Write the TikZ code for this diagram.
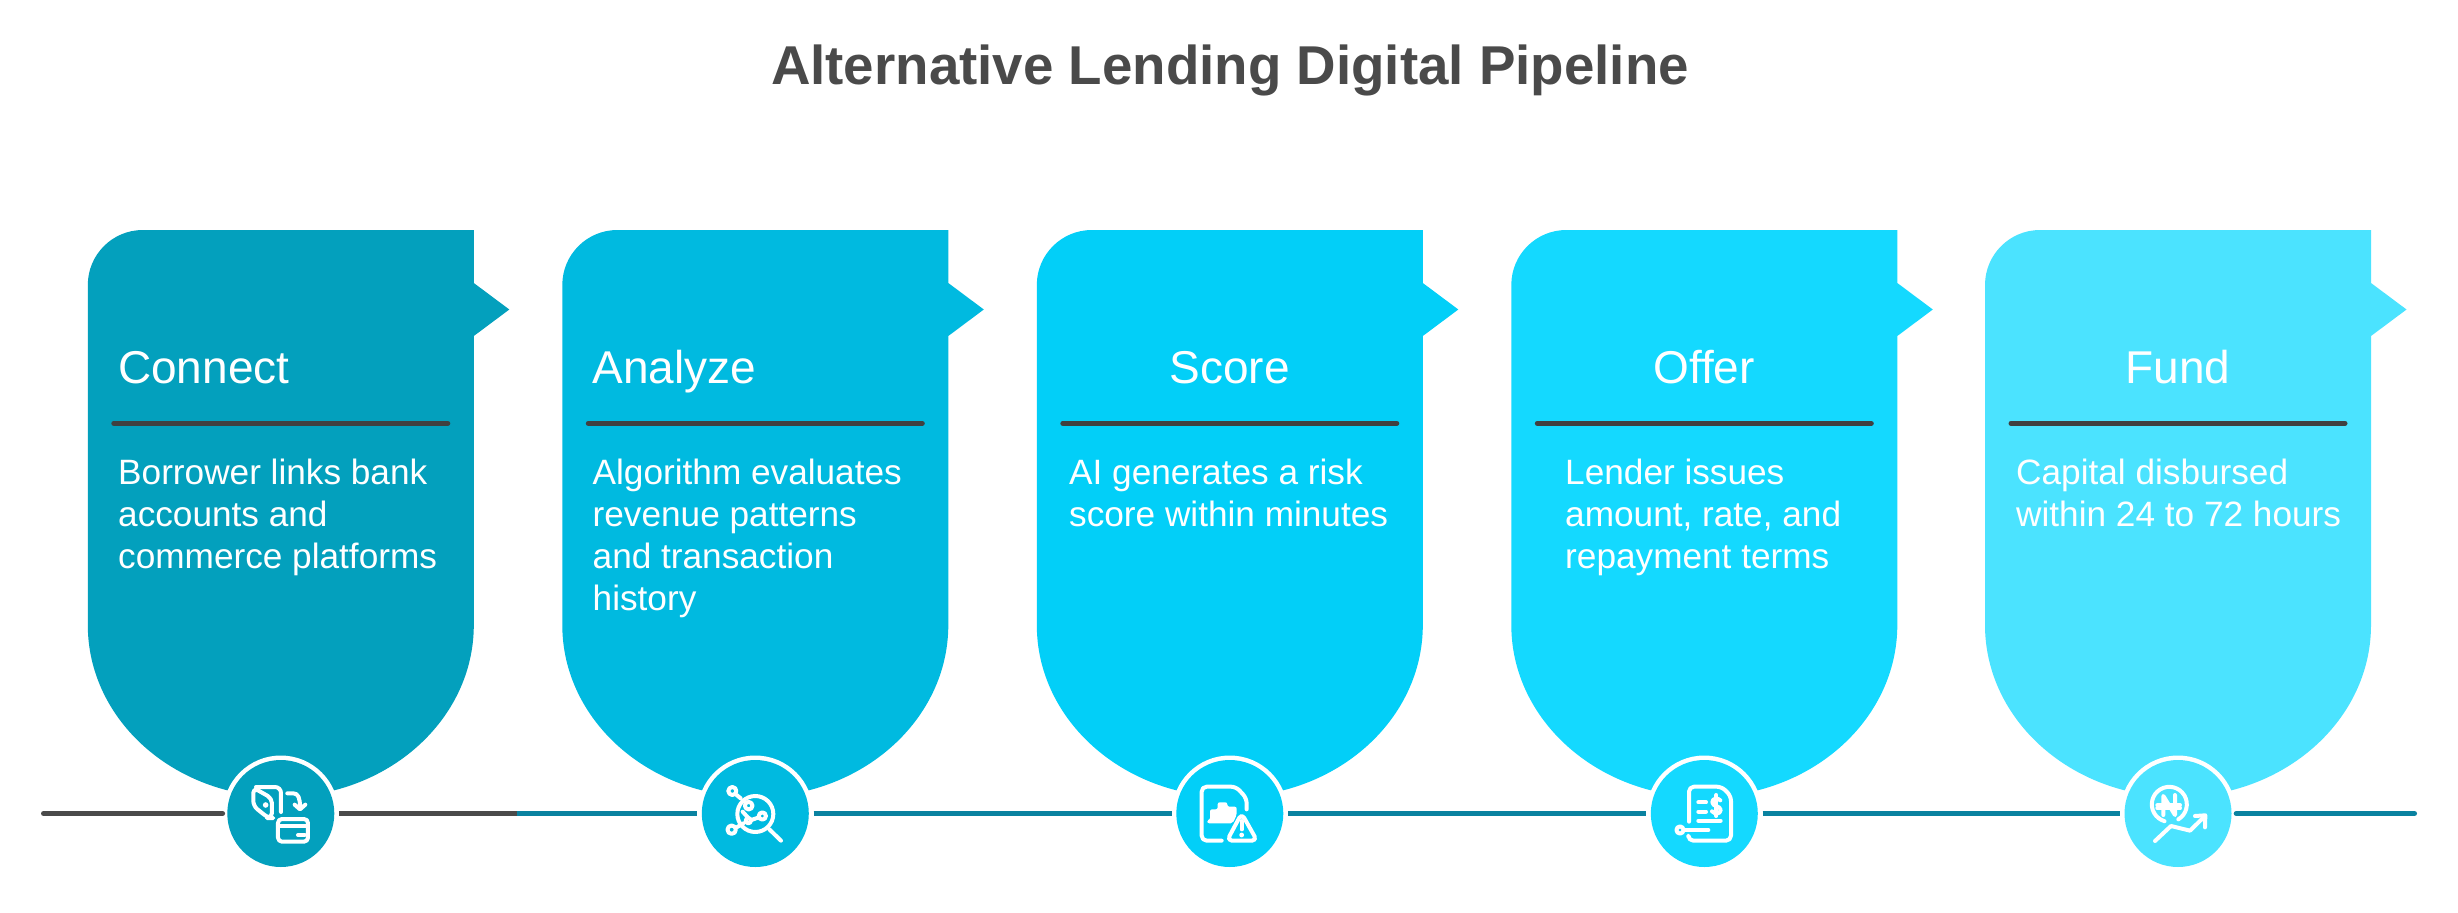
\documentclass[tikz,border=0pt]{standalone}
\usepackage{fontspec}
\setmainfont{Liberation Sans}
\definecolor{cardA}{RGB}{3,160,189}
\definecolor{cardB}{RGB}{0,186,224}
\definecolor{cardC}{RGB}{2,207,248}
\definecolor{cardD}{RGB}{20,217,255}
\definecolor{cardE}{RGB}{75,227,255}
\definecolor{inkdark}{RGB}{74,74,74}
\definecolor{rulegrey}{RGB}{64,64,64}
\definecolor{railteal}{RGB}{10,130,160}
\tikzset{
  headtext/.style={text=white,inner sep=0pt,font=\fontsize{46}{50}\selectfont},
  bodytext/.style={text=white,inner sep=0pt,align=left,anchor=north west,font=\fontsize{35.2}{42}\selectfont},
  iconring/.style={circle,fill=white,minimum size=116pt,inner sep=0pt},
  icondisc/.style={circle,minimum size=107pt,inner sep=0pt},
  glyph/.style={draw=white,line width=4pt,line cap=round,line join=round},
  solidglyph/.style={fill=white},
  railline/.style={line width=5pt},
}
\newcommand\stagecard[3]{%
  \fill[#2] (#1,285) arc[start angle=180,end angle=90,radius=55pt]
    -- (#1+386,230) -- (#1+386,283) -- (#1+421.5,309.5) -- (#1+386,336)
    -- (#1+386,625) arc[start angle=0,end angle=-180,x radius=193pt,y radius=172pt] -- cycle;
  \draw[line width=5pt,line cap=round,rulegrey] (#1+26,423.3) -- (#1+360,423.3);
  \node[iconring] (#3ring) at (#1+193,813.5) {};
  \node[icondisc,fill=#2] (#3) at (#1+193,813.5) {};
}
\begin{document}
\begin{tikzpicture}[x=1pt,y=-1pt]
\path[use as bounding box,fill=white] (0,0) rectangle (2458,913);
\node[text=inkdark,inner sep=0pt,anchor=base,font=\fontsize{54.7}{60}\bfseries\selectfont] (title) at (1230,84) {Alternative Lending Digital Pipeline};

\stagecard{87.8}{cardA}{iconA}
\stagecard{562.3}{cardB}{iconB}
\stagecard{1036.8}{cardC}{iconC}
\stagecard{1511.3}{cardD}{iconD}
\stagecard{1985}{cardE}{iconE}

\node[headtext,anchor=base west] (headA) at (118,383.3) {Connect};
\node[headtext,anchor=base west] (headB) at (592.5,383.3) {Analyze};
\node[headtext,anchor=base] (headC) at (1229.5,383.3) {Score};
\node[headtext,anchor=base] (headD) at (1704,383.3) {Offer};
\node[headtext,anchor=base] (headE) at (2178,383.3) {Fund};

\node[bodytext] (bodyA) at (118,456) {\rule{0pt}{28pt}Borrower links bank\\accounts and\\commerce platforms};
\node[bodytext] (bodyB) at (592.5,456) {\rule{0pt}{28pt}Algorithm evaluates\\revenue patterns\\and transaction\\history};
\node[bodytext] (bodyC) at (1069,456) {\rule{0pt}{28pt}AI generates a risk\\score within minutes};
\node[bodytext] (bodyD) at (1565,456) {\rule{0pt}{28pt}Lender issues\\amount, rate, and\\repayment terms};
\node[bodytext] (bodyE) at (2016,456) {\rule{0pt}{28pt}Capital disbursed\\within 24 to 72 hours};

% rail
\coordinate (railstart) at (43.5,813.5);
\coordinate (railend) at (2414.5,813.5);
\coordinate (railswitch) at (516.5,813.5);
\draw[railline,inkdark,line cap=round] (railstart) -- (iconAring.west);
\draw[railline,inkdark] (iconAring.east) -- (railswitch);
\draw[railline,railteal] (railswitch) -- (iconBring.west);
\draw[railline,railteal] (iconBring.east) -- (iconCring.west);
\draw[railline,railteal] (iconCring.east) -- (iconDring.west);
\draw[railline,railteal] (iconDring.east) -- (iconEring.west);
\draw[railline,railteal,line cap=round] (iconEring.east) -- (railend);

% icon: door, arrow, card
\begin{scope}[shift={(200,740)},x=0.3333pt,y=-0.3333pt]
  \draw[glyph,rounded corners=6pt] (168,141) -- (243,141) -- (243,216);
  \draw[glyph,rounded corners=5pt] (160,143) -- (216,175) -- (216,234) -- (205,234) -- (160,198) -- cycle;
  \fill[solidglyph] (197,195) circle (2.8pt);
  \draw[glyph] (262,160) -- (280,160) .. controls (295,160) and (300,175) .. (300,200);
  \draw[glyph] (284,194) -- (300,208) -- (316,194);
  \draw[glyph,rounded corners=4pt] (234,237) rectangle (324,305);
  \draw[glyph] (234,258) -- (324,258);
  \draw[glyph] (294,285) -- (314,285);
\end{scope}

% icon: magnifier and network
\begin{scope}[shift={(680,740)},x=0.3333pt,y=-0.3333pt]
  \draw[glyph] (226,222) circle (18pt);
  \draw[glyph] (268,268) -- (303,302);
  \draw[glyph] (157,153) circle (4pt);
  \draw[glyph] (170,165) -- (182,175);
  \draw[glyph] (155,269) circle (4.2pt);
  \draw[glyph] (170,262) -- (190,250);
  \draw[glyph] (206,197) circle (3.8pt);
  \draw[glyph] (247,228) circle (3.6pt);
  \draw[glyph] (205,242) circle (2.6pt);
  \draw[glyph] (214,240) -- (237,232);
  \draw[glyph] (188,215) -- (205,234);
\end{scope}

% icon: document, chart, warning
\begin{scope}[shift={(1150,740)},x=0.3333pt,y=-0.3333pt]
  \draw[glyph,rounded corners=5pt] (215,302) -- (155,302) -- (155,140) -- (258,140) -- (290,175) -- (290,208);
  \fill[solidglyph,rounded corners=2pt] (172,250) -- (172,240) -- (180,240) -- (180,208) -- (203,208) -- (203,187) -- (232,187) -- (232,200) -- (260,200) -- (260,225) -- (248,250) -- cycle;
  \draw[glyph,rounded corners=5pt] (275,220) -- (231,302) -- (321,302) -- cycle;
  \draw[glyph] (275,243) -- (275,268);
  \fill[solidglyph] (275,285) circle (2.4pt);
\end{scope}

% icon: invoice with dollar
\begin{scope}[shift={(1630,740)},x=0.3333pt,y=-0.3333pt]
  \draw[glyph,rounded corners=5pt] (177,245) -- (177,140) -- (275,140) -- (303,168) -- (303,302) -- (175,302) -- (175,290);
  \draw[glyph] (205,187) -- (228,187);
  \draw[glyph] (205,215) -- (228,215);
  \draw[glyph] (205,242) -- (272,242);
  \draw[glyph] (165,270) -- (235,270);
  \draw[glyph] (150,270) circle (3.6pt);
  \draw[glyph] (271,181) .. controls (262,172) and (247,175) .. (247,187) .. controls (247,200) and (272,197) .. (272,210) .. controls (272,222) and (255,224) .. (246,214);
  \draw[glyph] (259,165) -- (259,228);
\end{scope}

% icon: naira coin with rising arrow
\begin{scope}[shift={(2100,740)},x=0.3333pt,y=-0.3333pt]
  \draw[glyph] (235,238) arc[start angle=-59,end angle=254,radius=17.5pt];
  \draw[glyph] (190,225) -- (190,168) -- (225,225) -- (225,165);
  \draw[glyph] (172,196) -- (240,196);
  \draw[glyph] (172,205) -- (240,205);
  \draw[glyph] (165,303) -- (213,258) -- (270,272) -- (315,228);
  \draw[glyph] (285,228) -- (316,226) -- (315,262);
\end{scope}
\end{tikzpicture}
\end{document}
